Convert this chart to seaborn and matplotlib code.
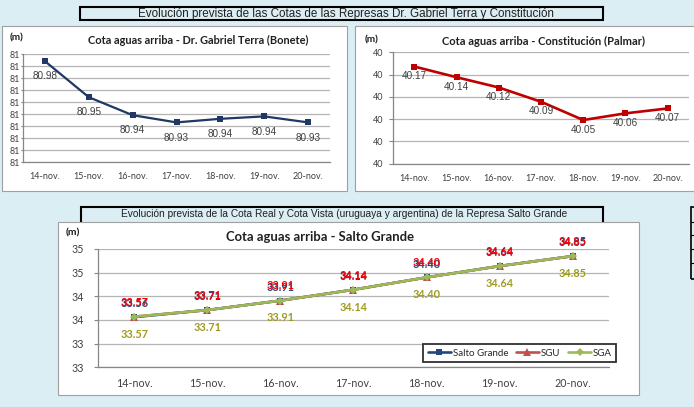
import numpy as np
import pandas as pd
import matplotlib
matplotlib.use('Agg')
import matplotlib.pyplot as plt
from matplotlib.patches import Rectangle
from matplotlib.lines import Line2D
from matplotlib.ticker import FuncFormatter
import seaborn as sns

# datos
dias = ['14-nov.', '15-nov.', '16-nov.', '17-nov.', '18-nov.', '19-nov.', '20-nov.']
bonete = [80.984, 80.954, 80.939, 80.933, 80.936, 80.938, 80.933]
palmar = [40.168, 40.144, 40.121, 40.089, 40.048, 40.063, 40.074]
salto_grande = [33.56, 33.71, 33.91, 34.14, 34.40, 34.64, 34.85]
sgu = [33.57, 33.71, 33.91, 34.14, 34.40, 34.64, 34.85]
sga = [33.57, 33.71, 33.91, 34.14, 34.40, 34.64, 34.85]

bonete_lim = (80.90, 80.99)
bonete_paso = 0.01
palmar_lim = (39.95, 40.20)
palmar_paso = 0.05
salto_lim = (32.5, 35.0)
salto_paso = 0.5

titulo_sup = 'Evolución prevista de las Cotas de las Represas Dr. Gabriel Terra y Constitución'
titulo_inf = 'Evolución prevista de la Cota Real y Cota Vista (uruguaya y argentina) de la Represa Salto Grande'

sns.set_style('white')
CAL = ['Lato', 'DejaVu Sans']
ARIAL = ['Liberation Sans', 'DejaVu Sans']
NARROW = ['Liberation Sans Narrow', 'Liberation Sans', 'DejaVu Sans']
plt.rcParams['font.family'] = CAL

W, H = 694, 407
fondo = '#dbeef4'
gris_eje = '#868686'
gris_grid = '#b4b4b4'

fig = plt.figure(figsize=(W / 100, H / 100), dpi=100, facecolor=fondo)


def caja(x0, y0, x1, y1):
    return [x0 / W, 1 - y1 / H, (x1 - x0) / W, (y1 - y0) / H]


def rect(x0, y0, x1, y1, **kw):
    r = Rectangle((x0 / W, 1 - y1 / H), (x1 - x0) / W, (y1 - y0) / H,
                  transform=fig.transFigure, **kw)
    fig.add_artist(r)


def texto(x, y, s, **kw):
    fig.text(x / W, 1 - y / H, s, **kw)


# cajas de titulo y paneles blancos
rect(80, 7, 603, 20, facecolor=fondo, edgecolor='black', lw=1.5, zorder=-3)
rect(81, 206.5, 603, 224, facecolor=fondo, edgecolor='black', lw=1.5, zorder=-3)
rect(2, 26, 347, 191, facecolor='white', edgecolor='#a0a0a0', lw=0.8, zorder=-2)
rect(355, 26, 705, 191, facecolor='white', edgecolor='#a0a0a0', lw=0.8, zorder=-2)
rect(58, 221.5, 639, 395, facecolor='white', edgecolor='#a0a0a0', lw=0.8, zorder=-2)
# fragmento de tabla a la derecha
rect(691, 207, 705, 279, facecolor='none', edgecolor='black', lw=1.2, zorder=-2)
for yy in [221.7, 235, 249.3, 263.3]:
    fig.add_artist(Line2D([691 / W, 1], [1 - yy / H] * 2, transform=fig.transFigure,
                          color='black', lw=0.8))

texto(346, 14, titulo_sup, ha='center', va='center', fontsize=8.4, family=NARROW, color='#202020')
texto(344, 214.5, titulo_inf, ha='center', va='center', fontsize=7.3, family=NARROW, color='#202020')

fmt = FuncFormatter(lambda v, p: f"{int(np.floor(v + 0.5 + 1e-9))}")


def estilo(ax, lim, paso, fs, largo_y, pad_y, pad_x):
    ax.set_facecolor('none')
    ax.set_ylim(*lim)
    ax.set_yticks(np.arange(lim[0], lim[1] + paso / 2, paso))
    ax.yaxis.set_major_formatter(fmt)
    ax.set_xlim(-0.5, len(dias) - 0.5)
    ax.set_xticks(np.arange(-0.5, len(dias), 1))
    ax.set_xticklabels([])
    ax.set_xticks(range(len(dias)), minor=True)
    ax.set_xticklabels(dias, minor=True)
    ax.tick_params(axis='x', which='major', length=4, width=0.8, color=gris_eje)
    ax.tick_params(axis='x', which='minor', length=0, pad=pad_x, labelsize=fs, labelcolor='#404040')
    ax.tick_params(axis='y', length=largo_y, width=0.8, color=gris_eje, pad=pad_y,
                   labelsize=fs, labelcolor='#404040', left=True)
    ax.grid(axis='y', color=gris_grid, lw=0.9)
    ax.set_axisbelow(True)
    for s in ['top', 'right']:
        ax.spines[s].set_visible(False)
    for s in ['left', 'bottom']:
        ax.spines[s].set_color(gris_eje)
        ax.spines[s].set_linewidth(0.9)
    ax.set_xlabel('')
    ax.set_ylabel('')


# Bonete
ax1 = fig.add_axes(caja(23, 54, 330, 162))
sns.lineplot(x=dias, y=bonete, ax=ax1, color='#1f3864', lw=1.6, marker='s',
             markersize=4.5, markeredgewidth=0, sort=False)
estilo(ax1, bonete_lim, bonete_paso, 6.5, 1.5, 0.8, 7.5)
for i, v in enumerate(bonete):
    ax1.annotate(f"{v:.2f}", (i, v), xytext=(0, -11), textcoords='offset points',
                 ha='center', va='center', fontsize=7.2, family=ARIAL, color='#404040')
texto(198, 40.7, 'Cota aguas arriba - Dr. Gabriel Terra (Bonete)', ha='center', va='center',
      fontsize=7.95, fontweight='bold', color='#202020')
texto(10, 38, '(m)', ha='left', va='center', fontsize=7.2, fontweight='bold', color='#202020')

# Palmar
ax2 = fig.add_axes(caja(393.3, 52.3, 688.8, 163.7))
sns.lineplot(x=dias, y=palmar, ax=ax2, color='#c00000', lw=1.9, marker='s',
             markersize=5, markeredgewidth=0, sort=False)
estilo(ax2, palmar_lim, palmar_paso, 6.5, 3, 4, 7.5)
for i, v in enumerate(palmar):
    ax2.annotate(f"{v:.2f}", (i, v), xytext=(0, -7), textcoords='offset points',
                 ha='center', va='center', fontsize=7.2, family=ARIAL, color='#404040')
texto(543, 41.7, 'Cota aguas arriba - Constitución (Palmar)', ha='center', va='center',
      fontsize=8, fontweight='bold', color='#202020')
texto(365, 40, '(m)', ha='left', va='center', fontsize=7.2, fontweight='bold', color='#202020')

# Salto Grande
ax3 = fig.add_axes(caja(97.7, 249, 609.3, 367.3))
sns.lineplot(x=dias, y=salto_grande, ax=ax3, color='#1f497d', lw=1.9, marker='s',
             markersize=4.5, markeredgewidth=0, sort=False, label='Salto Grande')
sns.lineplot(x=dias, y=sgu, ax=ax3, color='#c0504d', lw=1.9, marker='^',
             markersize=6, markeredgewidth=0, sort=False, label='SGU')
sns.lineplot(x=dias, y=sga, ax=ax3, color='#9bbb59', lw=1.9, marker='D',
             markersize=4.5, markeredgewidth=0, sort=False, label='SGA')
estilo(ax3, salto_lim, salto_paso, 7.7, 3, 7, 8)
for i, v in enumerate(salto_grande):
    ax3.annotate(f"{v:.2f}", (i, v), xytext=(0, 9.5), textcoords='offset points',
                 ha='center', va='center', fontsize=7.8, fontweight='bold', color='#1f497d')
for i, v in enumerate(sgu):
    ax3.annotate(f"{v:.2f}", (i, v), xytext=(0, 10.5), textcoords='offset points',
                 ha='center', va='center', fontsize=7.8, fontweight='bold', color='#ff0000')
for i, v in enumerate(sga):
    ax3.annotate(f"{v:.2f}", (i, v), xytext=(0, -12.5), textcoords='offset points',
                 ha='center', va='center', fontsize=7.8, fontweight='bold', color='#9e9b1b')
ley = ax3.legend(loc='center', bbox_to_anchor=(519.7 / W, 1 - 353.3 / H),
                 bbox_transform=fig.transFigure, ncol=3, frameon=True, fancybox=False,
                 edgecolor='#303030', framealpha=1, fontsize=7, handlelength=2.4,
                 handletextpad=0.15, columnspacing=0.8, borderpad=0.45)
ley.get_frame().set_linewidth(1.3)
texto(320, 237.3, 'Cota aguas arriba - Salto Grande', ha='center', va='center',
      fontsize=9.35, fontweight='bold', color='#202020')
texto(66, 233.3, '(m)', ha='left', va='center', fontsize=7.5, fontweight='bold', color='#202020')

fig.savefig('out.png', dpi=100, facecolor=fondo)
